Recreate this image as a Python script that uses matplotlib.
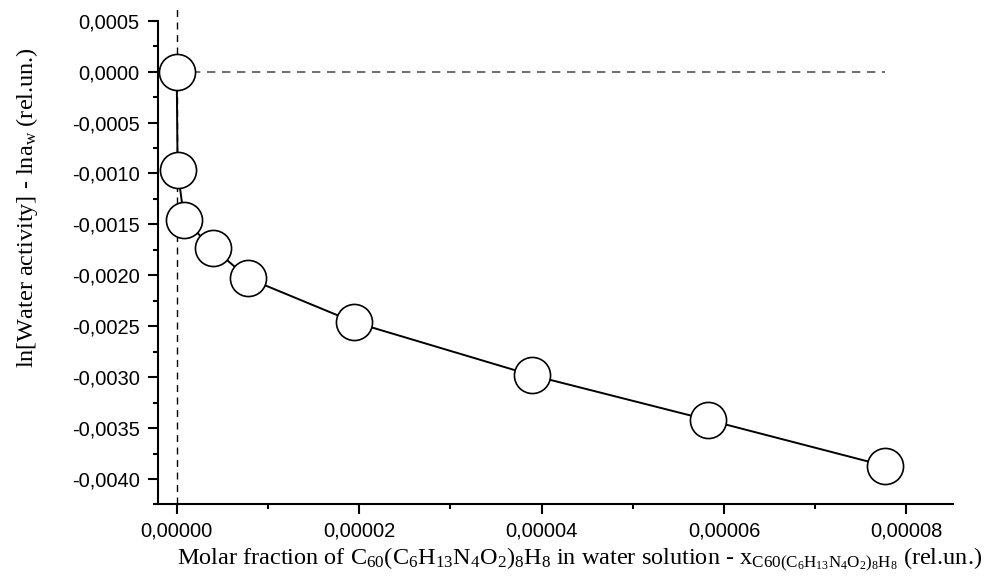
import matplotlib
matplotlib.use("Agg")
import matplotlib.pyplot as plt
from matplotlib.ticker import MultipleLocator, FuncFormatter

# Data
x_frac = [0.0, 0.0000001, 0.00000083, 0.00000395, 0.00000785,
          0.00001946, 0.0000389, 0.00005826, 0.00007762]
ln_aw = [0.0, -0.000963, -0.00146, -0.00173, -0.00203,
         -0.00246, -0.00298, -0.00342, -0.00387]

x_lim = (-0.00000208, 0.0000851)
y_lim = (-0.00425, 0.0005)

plt.rcParams['mathtext.fontset'] = 'custom'
plt.rcParams['mathtext.rm'] = 'Liberation Serif'
plt.rcParams['mathtext.it'] = 'Liberation Serif:italic'

fig = plt.figure(figsize=(9.87, 5.86), dpi=100)
ax = fig.add_axes([0.1598, 0.1391, 0.9655 - 0.1598, 0.9647 - 0.1391])

# reference lines
ax.axvline(0, ymin=0, ymax=1.026, color='black', lw=1.0,
           dashes=(5, 4), clip_on=False, zorder=1)
ax.plot([0, x_frac[-1]], [0, 0], color='#555555', lw=1.2,
        dashes=(5, 4), zorder=1)

ax.plot(x_frac, ln_aw, color='black', lw=1.4, marker='o', ms=26,
        mfc='white', mec='black', mew=1.2, zorder=3, clip_on=False)

ax.set_xlim(*x_lim)
ax.set_ylim(*y_lim)

for s in ['top', 'right']:
    ax.spines[s].set_visible(False)
for s in ['left', 'bottom']:
    ax.spines[s].set_linewidth(1.5)

ax.xaxis.set_major_locator(MultipleLocator(0.00002))
ax.xaxis.set_minor_locator(MultipleLocator(0.00001))
ax.yaxis.set_major_locator(MultipleLocator(0.0005))
ax.yaxis.set_minor_locator(MultipleLocator(0.00025))

ax.xaxis.set_major_formatter(FuncFormatter(lambda v, p: ("0,00000" if abs(v) < 1e-12 else f"{v:.5f}".replace('.', ','))))
ax.yaxis.set_major_formatter(FuncFormatter(lambda v, p: ("0,0000" if abs(v) < 1e-12 else f"{v:.4f}".replace('.', ','))))

ax.tick_params(which='major', direction='out', length=7, width=1.5,
               labelsize=14.5, labelfontfamily='Liberation Sans')
ax.tick_params(which='minor', direction='out', length=3.5, width=1.5)
ax.tick_params(axis='y', which='major', pad=6)
ax.tick_params(axis='x', which='major', pad=5)

ax.set_xlabel(r"Molar fraction of C$_{60}$(C$_6$H$_{13}$N$_4$O$_2$)$_8$H$_8$ in water solution - x$_{\mathrm{C60(C_6H_{13}N_4O_2)_8H_8}}$ (rel.un.)",
              fontsize=17.5, family='Liberation Serif')
ax.set_ylabel(r"ln[Water activity] - lna$_{\mathrm{w}}$ (rel.un.)",
              fontsize=17.5, family='Liberation Serif')
ax.xaxis.set_label_coords(0.531, -0.085)
ax.yaxis.set_label_coords(-0.148, 0.613)

fig.savefig("out.png", dpi=100)
